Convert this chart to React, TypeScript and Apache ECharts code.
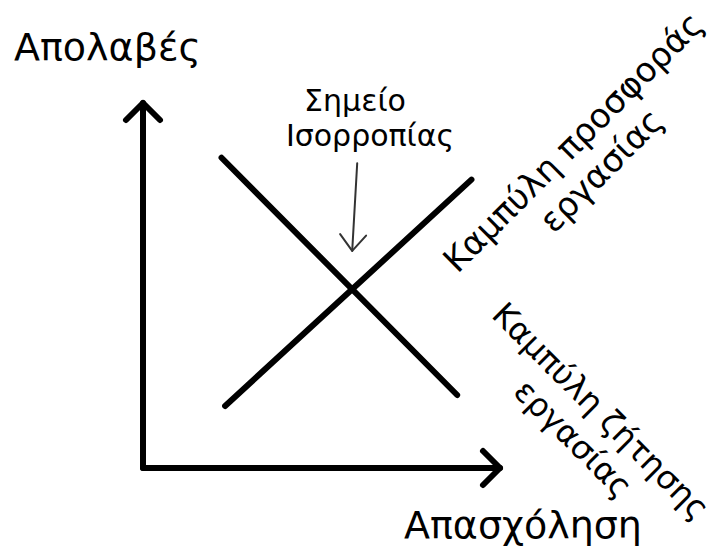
import React, { useEffect, useRef } from "react";
import * as echarts from "echarts";

// Curves in data space (employment on x, wages on y)
const demandCurve: number[][] = [
  [2.2, 8.5],
  [8.8, 2.0],
];
const supplyCurve: number[][] = [
  [2.3, 1.7],
  [9.2, 7.9],
];
// Axes as [x0, y0, x1, y1]
const axesArrows: number[][] = [
  [0, 0, 0, 10],
  [0, 0, 10, 0],
];
// Annotation pointer to the equilibrium point [x0, y0, x1, y1]
const equilibriumPointer: number[][] = [[6.0, 8.35, 5.86, 5.95]];

const yAxisTitle = "Απολαβές";
const xAxisTitle = "Απασχόληση";
const equilibriumLines = ["Σημείο", "Ισορροπίας"];
const supplyLabel = "Καμπύλη προσφοράς\nεργασίας";
const demandLabel = "Καμπύλη ζήτησης\nεργασίας";

const FAMILY = "DejaVu Sans";

function arrowRenderer(width: number, color: string, headLen: number, headHalf: number) {
  return (params: any, api: any) => {
    const p0 = api.coord([api.value(0), api.value(1)]);
    const p1 = api.coord([api.value(2), api.value(3)]);
    const dx = p1[0] - p0[0];
    const dy = p1[1] - p0[1];
    const len = Math.sqrt(dx * dx + dy * dy) || 1;
    const ux = dx / len;
    const uy = dy / len;
    const nx = -uy;
    const ny = ux;
    const w1 = [p1[0] - headLen * ux + headHalf * nx, p1[1] - headLen * uy + headHalf * ny];
    const w2 = [p1[0] - headLen * ux - headHalf * nx, p1[1] - headLen * uy - headHalf * ny];
    const style = { stroke: color, lineWidth: width, lineCap: "round", lineJoin: "round", fill: null };
    return {
      type: "group",
      children: [
        { type: "line", shape: { x1: p0[0], y1: p0[1], x2: p1[0], y2: p1[1] }, style },
        { type: "polyline", shape: { points: [w1, p1, w2] }, style },
      ],
    };
  };
}

function txt(text: string, x: number, y: number, size: number, align: string, rotation = 0, lineHeight?: number) {
  return {
    type: "text",
    x,
    y,
    rotation,
    style: {
      text,
      fontFamily: FAMILY,
      fontSize: size,
      lineHeight: lineHeight || size * 1.2,
      fill: "#000",
      align,
      verticalAlign: "middle",
    },
  };
}

export default function App() {
  const ref = useRef<HTMLDivElement>(null);
  useEffect(() => {
    if (!ref.current) return;
    const chart = echarts.init(ref.current, null, { renderer: "svg" });
    const lineStyle = { color: "#000", width: 6, cap: "round" as const };
    chart.setOption({
      animation: false,
      backgroundColor: "#fff",
      grid: { left: 143, top: 103, width: 357, height: 365 },
      xAxis: { type: "value", min: 0, max: 10, show: false },
      yAxis: { type: "value", min: 0, max: 10, show: false },
      series: [
        {
          type: "custom",
          name: "axes",
          data: axesArrows,
          renderItem: arrowRenderer(6, "#000", 17, 17),
          silent: true,
        },
        {
          type: "line",
          name: "demand",
          data: demandCurve,
          symbol: "none",
          lineStyle,
          silent: true,
        },
        {
          type: "line",
          name: "supply",
          data: supplyCurve,
          symbol: "none",
          lineStyle,
          silent: true,
        },
        {
          type: "custom",
          name: "pointer",
          data: equilibriumPointer,
          renderItem: arrowRenderer(2, "#333", 16, 13),
          silent: true,
        },
      ],
      graphic: [
        txt(yAxisTitle, 14, 47, 38, "left"),
        txt(xAxisTitle, 404, 525, 38, "left"),
        txt(equilibriumLines[0], 355, 100, 30, "center"),
        txt(equilibriumLines[1], 370, 135, 30, "center"),
        txt(supplyLabel, 587, 156, 34, "center", Math.PI / 4, 40),
        txt(demandLabel, 587, 425, 32.5, "center", -Math.PI / 4, 39),
      ],
    });
    return () => chart.dispose();
  }, []);
  return (
    <div
      ref={ref}
      style={{ position: "absolute", left: 0, top: 0, width: 717, height: 551, background: "#fff" }}
    />
  );
}
